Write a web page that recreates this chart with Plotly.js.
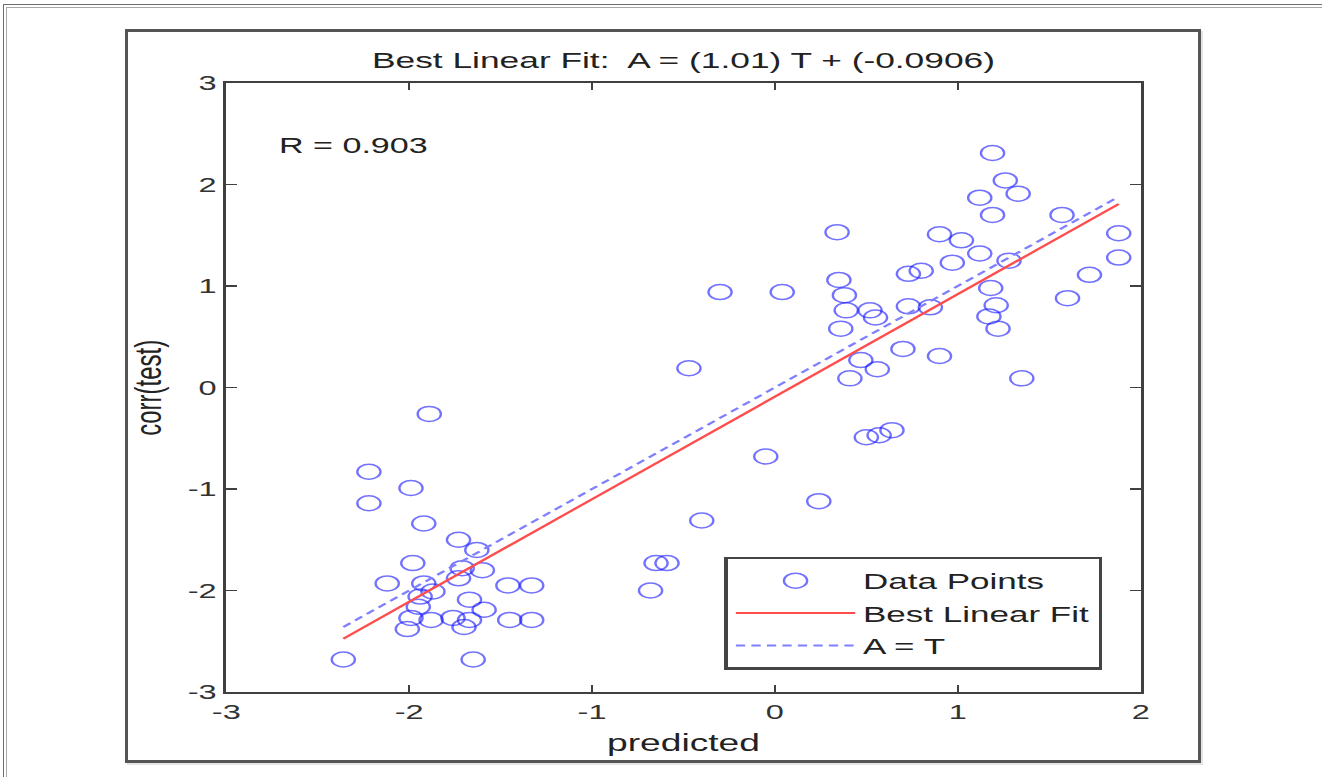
<!DOCTYPE html>
<html>
<head>
<meta charset="utf-8">
<script src="https://cdn.plot.ly/plotly-3.0.1.min.js"></script>
<style>
  html, body { margin:0; padding:0; background:#fff; width:1322px; height:777px; overflow:hidden; }
  #frameTop1 { position:absolute; left:3px; top:4px; width:1319px; height:1px; background:#6e6e6e; }
  #frameTop2 { position:absolute; left:6px; top:7px; width:1316px; height:1px; background:#a8a8a8; }
  #frameLeft1 { position:absolute; left:3px; top:4px; width:1px; height:773px; background:#6e6e6e; }
  #frameLeft2 { position:absolute; left:6px; top:7px; width:1px; height:770px; background:#a8a8a8; }
  #figbox { position:absolute; left:125px; top:29px; width:1076px; height:734px; box-sizing:border-box;
            border:3px solid #555; background:#fff; box-shadow: 2px 2px 0 #e4e4e4; }
  #wrap { position:absolute; left:0; top:0; width:853px; height:777px; transform-origin:0 0; transform:scaleX(1.54982); }
</style>
</head>
<body>
<div id="frameTop1"></div><div id="frameTop2"></div>
<div id="frameLeft1"></div><div id="frameLeft2"></div>
<div id="figbox"></div>
<div id="wrap"><div id="chart"></div></div>
<script>
// ---- data ----
const predicted = [
  1.19, 1.26, 1.33, 1.12, 1.19, 1.57, 0.34, 0.90, 1.02, 1.88,
  1.88, 1.12, 0.97, 1.28, 0.73, 0.80, 1.72, 0.35, 1.18, -0.30,
  0.04, 0.38, 1.60, 0.39, 0.52, 0.73, 0.85, 0.55, 1.21, 1.17,
  1.22, 0.36, 0.70, 0.90, 0.47, 0.41, 0.56, 1.35, -0.47, 0.50,
  0.57, 0.64, -0.05, 0.24, -0.40, -0.65, -0.59, -0.68,
  -1.89, -2.22, -1.99, -2.22, -1.92, -1.73, -1.98, -1.63, -1.71, -1.60,
  -1.73, -2.12, -1.92, -1.46, -1.33, -1.94, -1.87, -1.67, -1.59, -1.95,
  -1.99, -1.88, -1.76, -1.67, -1.70, -2.01, -1.45, -1.33, -2.36, -1.65
];
const corrTest = [
  2.31, 2.04, 1.91, 1.87, 1.70, 1.70, 1.53, 1.51, 1.45, 1.52,
  1.28, 1.32, 1.23, 1.25, 1.12, 1.15, 1.11, 1.06, 0.98, 0.94,
  0.94, 0.91, 0.88, 0.76, 0.76, 0.80, 0.79, 0.69, 0.81, 0.70,
  0.58, 0.58, 0.38, 0.31, 0.27, 0.09, 0.18, 0.09, 0.19, -0.49,
  -0.47, -0.42, -0.68, -1.12, -1.31, -1.73, -1.73, -2.00,
  -0.26, -0.83, -0.99, -1.14, -1.34, -1.50, -1.73, -1.60, -1.78, -1.80,
  -1.88, -1.93, -1.93, -1.95, -1.95, -2.06, -2.01, -2.09, -2.19, -2.16,
  -2.27, -2.29, -2.27, -2.29, -2.36, -2.38, -2.29, -2.29, -2.68, -2.68
];
const fitSlope = 1.01;
const fitIntercept = -0.0906;
const rValue = 0.903;
const xTicks = [-3, -2, -1, 0, 1, 2];
const yTicks = [-3, -2, -1, 0, 1, 2, 3];
const legendNames = ['Data Points', 'Best Linear Fit', 'A = T'];
const chartTitle = 'Best Linear Fit:  A = (1.01) T + (-0.0906)';
const xLabel = 'predicted';
const yLabel = 'corr(test)';

// ---- derived line endpoints (span of the data) ----
const xMin = Math.min(...predicted), xMax = Math.max(...predicted);
const lineX = [xMin, xMax];
const fitY = lineX.map(v => fitSlope * v + fitIntercept);
const idY = lineX.slice();

const FONT = 'Liberation Sans, Arial, Helvetica, sans-serif';

const traces = [
  { x: predicted, y: corrTest, mode: 'markers', type: 'scatter', name: legendNames[0],
    marker: { symbol: 'circle-open', size: 15, color: 'rgba(20,20,255,0.6)', line: { width: 1.5, color: 'rgba(20,20,255,0.6)' } } },
  { x: lineX, y: fitY, mode: 'lines', type: 'scatter', name: legendNames[1],
    line: { color: '#ff4d4d', width: 2 } },
  { x: lineX, y: idY, mode: 'lines', type: 'scatter', name: legendNames[2],
    line: { color: '#8080ff', width: 2, dash: '6px,4px' } }
];

const axisCommon = {
  showgrid: false, zeroline: false, showline: true, linecolor: '#404040', linewidth: 2,
  mirror: 'ticks', ticks: 'inside', ticklen: 7, tickwidth: 1.5, tickcolor: '#404040',
  tickfont: { family: FONT, size: 21, color: '#333' }
};

const layout = {
  width: 853, height: 777,
  margin: { l: 146, r: 117, t: 83, b: 85 },
  paper_bgcolor: 'rgba(0,0,0,0)', plot_bgcolor: '#fff',
  font: { family: FONT, color: '#222' },
  title: { text: chartTitle, x: 0.5, xref: 'paper', xanchor: 'center', y: 1 - 60/777, yref: 'container', yanchor: 'middle',
           font: { family: FONT, size: 22.8, color: '#222' } },
  xaxis: Object.assign({}, axisCommon, { range: [-3, 2], tickvals: xTicks, ticktext: xTicks.map(String),
           title: { text: xLabel, font: { family: FONT, size: 24, color: '#222' }, standoff: 12 } }),
  yaxis: Object.assign({}, axisCommon, { range: [-3, 3], tickvals: yTicks, ticktext: yTicks.map(String) }),
  showlegend: true,
  legend: { x: 0.5446, y: 0.2217, xanchor: 'left', yanchor: 'top', bgcolor: '#fff',
            bordercolor: '#444', borderwidth: 2.5, itemwidth: 77,
            font: { family: FONT, size: 22.6, color: '#222' } },
  annotations: [
    { text: 'R = ' + rValue, x: -2.73, y: 2.38, xref: 'x', yref: 'y', xanchor: 'left', yanchor: 'middle',
      showarrow: false, font: { family: FONT, size: 22, color: '#222' } },
    { text: yLabel, x: -0.086, y: 0.5, xref: 'paper', yref: 'paper', textangle: -90,
      xanchor: 'center', yanchor: 'middle', showarrow: false, font: { family: FONT, size: 24, color: '#222' } }
  ]
};

Plotly.newPlot('chart', traces, layout, { staticPlot: true, displayModeBar: false });
</script>
</body>
</html>
